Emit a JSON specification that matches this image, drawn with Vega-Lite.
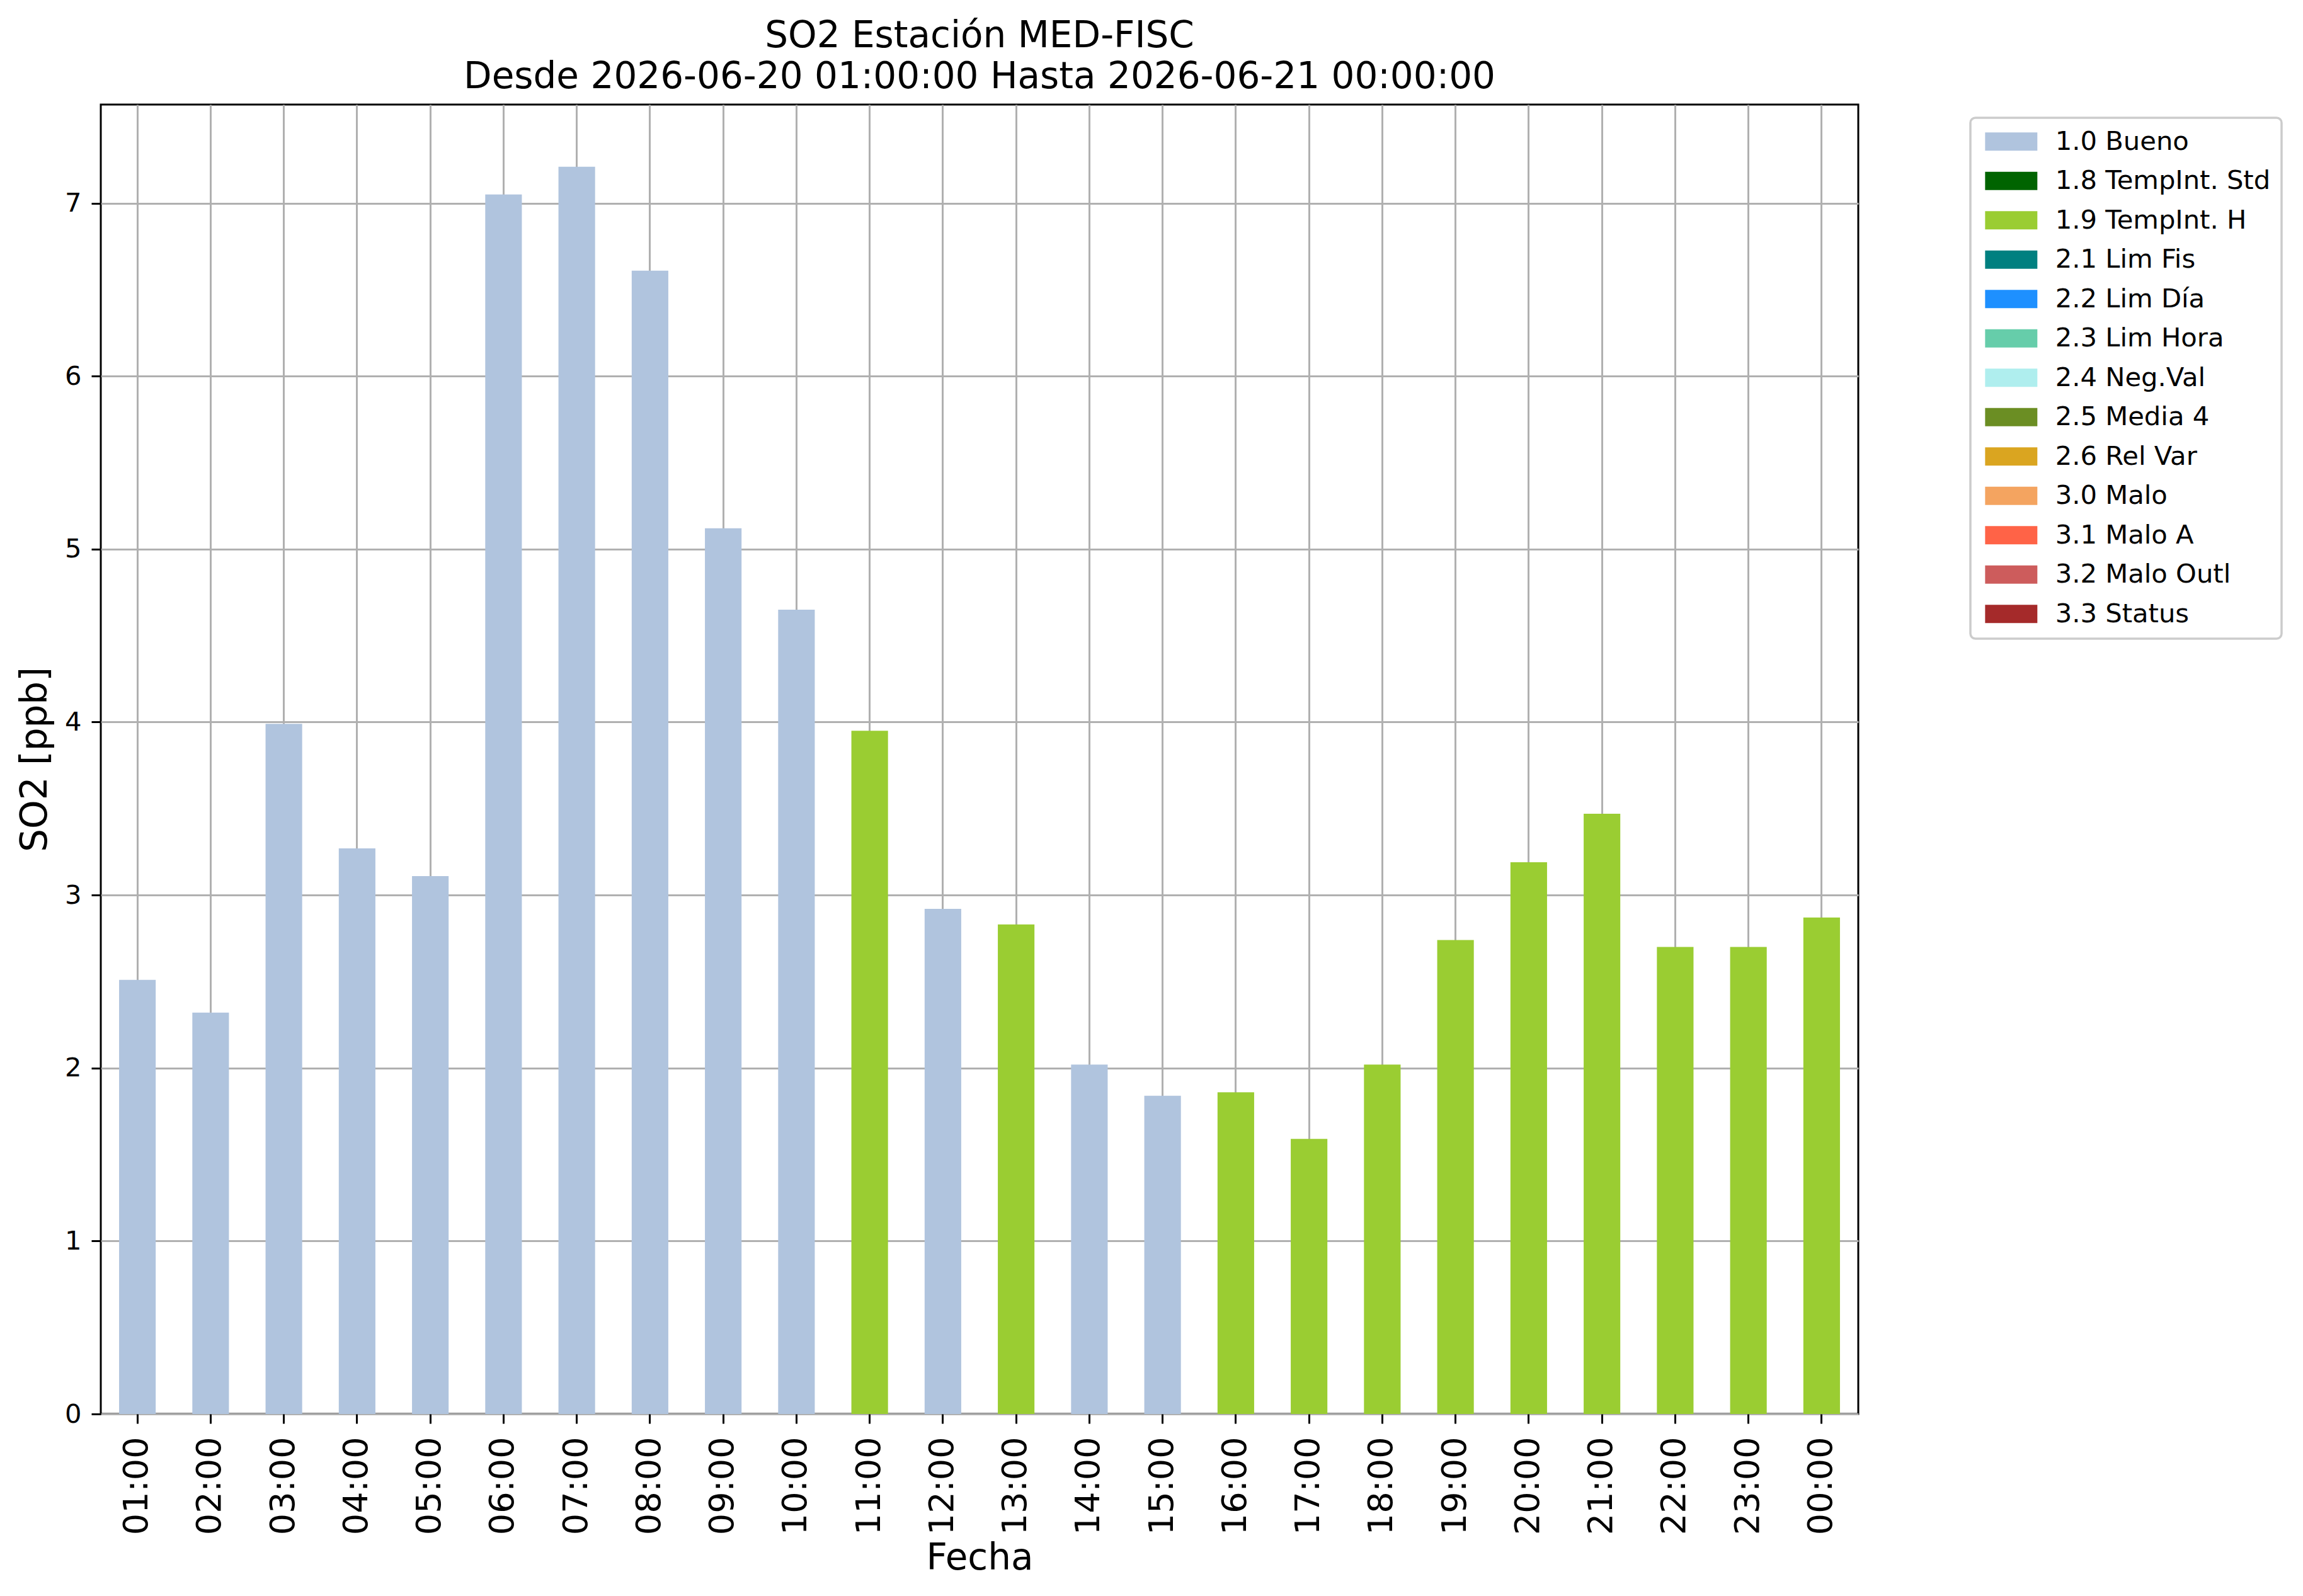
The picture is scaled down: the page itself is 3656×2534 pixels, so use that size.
{
  "$schema": "https://vega.github.io/schema/vega-lite/v6.json",
  "autosize": {"type": "none"},
  "padding": {"left": 160, "top": 166, "right": 706, "bottom": 289},
  "width": 2790,
  "height": 2079,
  "background": "white",
  "title": {
    "text": ["SO2 Estación MED-FISC", "Desde 2026-06-20 01:00:00 Hasta 2026-06-21 00:00:00"],
    "anchor": "middle",
    "font": "DejaVu Sans",
    "fontSize": 58,
    "fontWeight": "normal",
    "color": "#000000",
    "lineHeight": 65,
    "offset": 14
  },
  "data": {
    "values": [
      {"hora": "01:00", "so2": 2.51, "flag": "1.0 Bueno"},
      {"hora": "02:00", "so2": 2.32, "flag": "1.0 Bueno"},
      {"hora": "03:00", "so2": 3.99, "flag": "1.0 Bueno"},
      {"hora": "04:00", "so2": 3.27, "flag": "1.0 Bueno"},
      {"hora": "05:00", "so2": 3.11, "flag": "1.0 Bueno"},
      {"hora": "06:00", "so2": 7.05, "flag": "1.0 Bueno"},
      {"hora": "07:00", "so2": 7.21, "flag": "1.0 Bueno"},
      {"hora": "08:00", "so2": 6.61, "flag": "1.0 Bueno"},
      {"hora": "09:00", "so2": 5.12, "flag": "1.0 Bueno"},
      {"hora": "10:00", "so2": 4.65, "flag": "1.0 Bueno"},
      {"hora": "11:00", "so2": 3.95, "flag": "1.9 TempInt. H"},
      {"hora": "12:00", "so2": 2.92, "flag": "1.0 Bueno"},
      {"hora": "13:00", "so2": 2.83, "flag": "1.9 TempInt. H"},
      {"hora": "14:00", "so2": 2.02, "flag": "1.0 Bueno"},
      {"hora": "15:00", "so2": 1.84, "flag": "1.0 Bueno"},
      {"hora": "16:00", "so2": 1.86, "flag": "1.9 TempInt. H"},
      {"hora": "17:00", "so2": 1.59, "flag": "1.9 TempInt. H"},
      {"hora": "18:00", "so2": 2.02, "flag": "1.9 TempInt. H"},
      {"hora": "19:00", "so2": 2.74, "flag": "1.9 TempInt. H"},
      {"hora": "20:00", "so2": 3.19, "flag": "1.9 TempInt. H"},
      {"hora": "21:00", "so2": 3.47, "flag": "1.9 TempInt. H"},
      {"hora": "22:00", "so2": 2.70, "flag": "1.9 TempInt. H"},
      {"hora": "23:00", "so2": 2.70, "flag": "1.9 TempInt. H"},
      {"hora": "00:00", "so2": 2.87, "flag": "1.9 TempInt. H"}
    ]
  },
  "mark": {"type": "bar"},
  "encoding": {
    "x": {
      "field": "hora",
      "type": "ordinal",
      "sort": null,
      "scale": {"paddingInner": 0.5, "paddingOuter": 0.25},
      "axis": {
        "title": "Fecha",
        "labelAngle": 270,
        "labelFontSize": 54,
        "labelPadding": 21,
        "titlePadding": 9
      }
    },
    "y": {
      "field": "so2",
      "type": "quantitative",
      "scale": {"domain": [0, 7.57], "nice": false, "zero": true},
      "axis": {
        "title": "SO2 [ppb]",
        "values": [0, 1, 2, 3, 4, 5, 6, 7],
        "labelFontSize": 41.7,
        "labelPadding": 16,
        "titlePadding": 17
      }
    },
    "color": {
      "field": "flag",
      "type": "nominal",
      "scale": {
        "domain": ["1.0 Bueno", "1.8 TempInt. Std", "1.9 TempInt. H", "2.1 Lim Fis", "2.2 Lim Día", "2.3 Lim Hora", "2.4 Neg.Val", "2.5 Media 4", "2.6 Rel Var", "3.0 Malo", "3.1 Malo A", "3.2 Malo Outl", "3.3 Status"],
        "range": ["#B0C4DE", "#006400", "#9ACD32", "#008080", "#1E90FF", "#66CDAA", "#AFEEEE", "#6B8E23", "#DAA520", "#F4A460", "#FF6347", "#CD5C5C", "#A52A2A"]
      },
      "legend": {"title": null}
    }
  },
  "config": {
    "font": "DejaVu Sans",
    "view": {"stroke": "#000000", "strokeWidth": 3},
    "axis": {
      "labelFont": "DejaVu Sans",
      "titleFont": "DejaVu Sans",
      "labelColor": "#000000",
      "titleColor": "#000000",
      "titleFontSize": 58,
      "titleFontWeight": "normal",
      "grid": true,
      "gridColor": "#b0b0b0",
      "gridWidth": 3,
      "gridOpacity": 1,
      "domain": false,
      "tickColor": "#000000",
      "tickWidth": 3,
      "tickSize": 15,
      "zindex": 1
    },
    "legend": {
      "orient": "none",
      "legendX": 2968,
      "legendY": 21,
      "symbolType": "M-1,-1H4.72V1H-1Z",
      "symbolSize": 841,
      "symbolStrokeWidth": 0,
      "symbolOpacity": 1,
      "labelFont": "DejaVu Sans",
      "labelFontSize": 41.7,
      "labelColor": "#000000",
      "labelLimit": 800,
      "labelOffset": 76,
      "rowPadding": 19.5,
      "padding": 17,
      "strokeColor": "#cccccc",
      "strokeWidth": 3.5,
      "cornerRadius": 8,
      "fillColor": "#ffffff"
    }
  }
}
